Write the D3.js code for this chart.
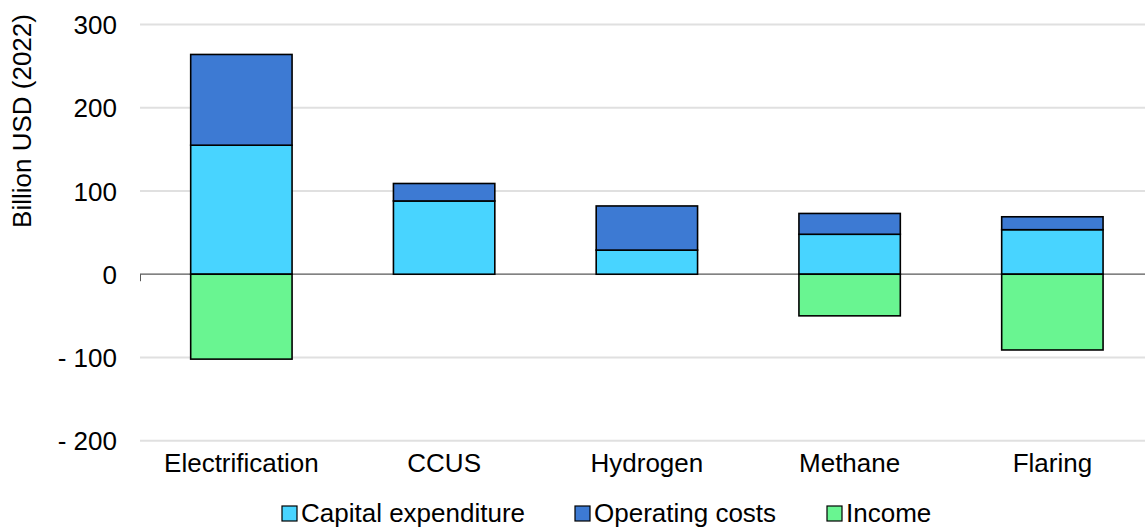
<!DOCTYPE html>
<html>
<head>
<meta charset="utf-8">
<script src="https://cdn.jsdelivr.net/npm/d3@7"></script>
<style>
  html, body { margin: 0; padding: 0; background: #fff; }
  svg { display: block; font-family: "Liberation Sans", Arial, sans-serif; }
</style>
</head>
<body>
<svg id="chart" width="1145" height="529"></svg>
<script>
const categories = ["Electrification", "CCUS", "Hydrogen", "Methane", "Flaring"];
const capex = [155, 88, 29, 48, 53.5];
const opex = [109, 21, 53, 25, 15.5];
const income = [-102, 0, 0, -50, -91];
const yTicks = [-200, -100, 0, 100, 200, 300];
const seriesNames = ["Capital expenditure", "Operating costs", "Income"];
const seriesColors = ["#48D4FF", "#3D7AD3", "#69F591"];

(function () {
const svg = d3.select("#chart");
const W = 1145;
const plotLeft = 140, plotRight = 1153.75, plotTop = 24.5, plotBottom = 440.7;
const fs = 26;

const x = d3.scaleBand().domain(categories).range([plotLeft, plotRight]).paddingInner(0.5).paddingOuter(0.25);
const y = d3.scaleLinear().domain([-200, 300]).range([plotBottom, plotTop]);

// gridlines
svg.append("g").selectAll("line").data(yTicks.filter(d => d !== 0)).join("line")
  .attr("x1", plotLeft).attr("x2", W)
  .attr("y1", d => y(d)).attr("y2", d => y(d))
  .attr("stroke", "#e0e0e0").attr("stroke-width", 2);

// y axis labels
const yAxis = d3.axisLeft(y).tickValues(yTicks).tickSize(0).tickPadding(0)
  .tickFormat(d => d < 0 ? "- " + Math.abs(d) : String(d));
const yg = svg.append("g").attr("transform", `translate(${117},0)`).call(yAxis);
yg.select(".domain").remove();
yg.selectAll("text").attr("font-size", fs).attr("fill", "#000")
  .attr("font-family", "Liberation Sans, Arial, sans-serif").attr("dy", "0.35em");

// y title
svg.append("text")
  .attr("transform", `translate(31,${121}) rotate(-90)`)
  .attr("text-anchor", "middle")
  .attr("font-size", fs).attr("fill", "#000")
  .text("Billion USD (2022)");

// bars
const rows = categories.map((c, i) => ({c, capex: capex[i], opex: opex[i], income: income[i]}));
const bars = [];
rows.forEach(r => {
  bars.push({c: r.c, y0: 0, y1: r.capex, color: seriesColors[0]});
  bars.push({c: r.c, y0: r.capex, y1: r.capex + r.opex, color: seriesColors[1]});
  if (r.income !== 0) bars.push({c: r.c, y0: r.income, y1: 0, color: seriesColors[2]});
});

// zero line
svg.append("line").attr("x1", plotLeft).attr("x2", W).attr("y1", y(0)).attr("y2", y(0))
  .attr("stroke", "#595959").attr("stroke-width", 1.2);
svg.append("line").attr("x1", plotLeft + 0.5).attr("x2", plotLeft + 0.5).attr("y1", y(0)).attr("y2", y(0) + 7)
  .attr("stroke", "#595959").attr("stroke-width", 1);

svg.append("g").selectAll("rect").data(bars).join("rect")
  .attr("x", d => x(d.c))
  .attr("width", x.bandwidth())
  .attr("y", d => y(d.y1))
  .attr("height", d => y(d.y0) - y(d.y1))
  .attr("fill", d => d.color)
  .attr("stroke", "#000").attr("stroke-width", 1.6);

// category labels
const xAxis = d3.axisBottom(x).tickSize(0).tickPadding(0);
const xg = svg.append("g").attr("transform", `translate(0,${472})`).call(xAxis);
xg.select(".domain").remove();
xg.selectAll("text").attr("font-size", fs).attr("fill", "#000")
  .attr("font-family", "Liberation Sans, Arial, sans-serif").attr("dy", "0");

// legend
const legendX = [282, 575, 827];
const lg = svg.append("g").selectAll("g").data(seriesNames).join("g")
  .attr("transform", (d, i) => `translate(${legendX[i]},${506})`);
lg.append("rect").attr("width", 15).attr("height", 15)
  .attr("fill", (d, i) => seriesColors[i]).attr("stroke", "#000").attr("stroke-width", 1.2);
lg.append("text").attr("x", 19).attr("y", 16).attr("font-size", fs).attr("fill", "#000").text(d => d);
})();
</script>
</body>
</html>
